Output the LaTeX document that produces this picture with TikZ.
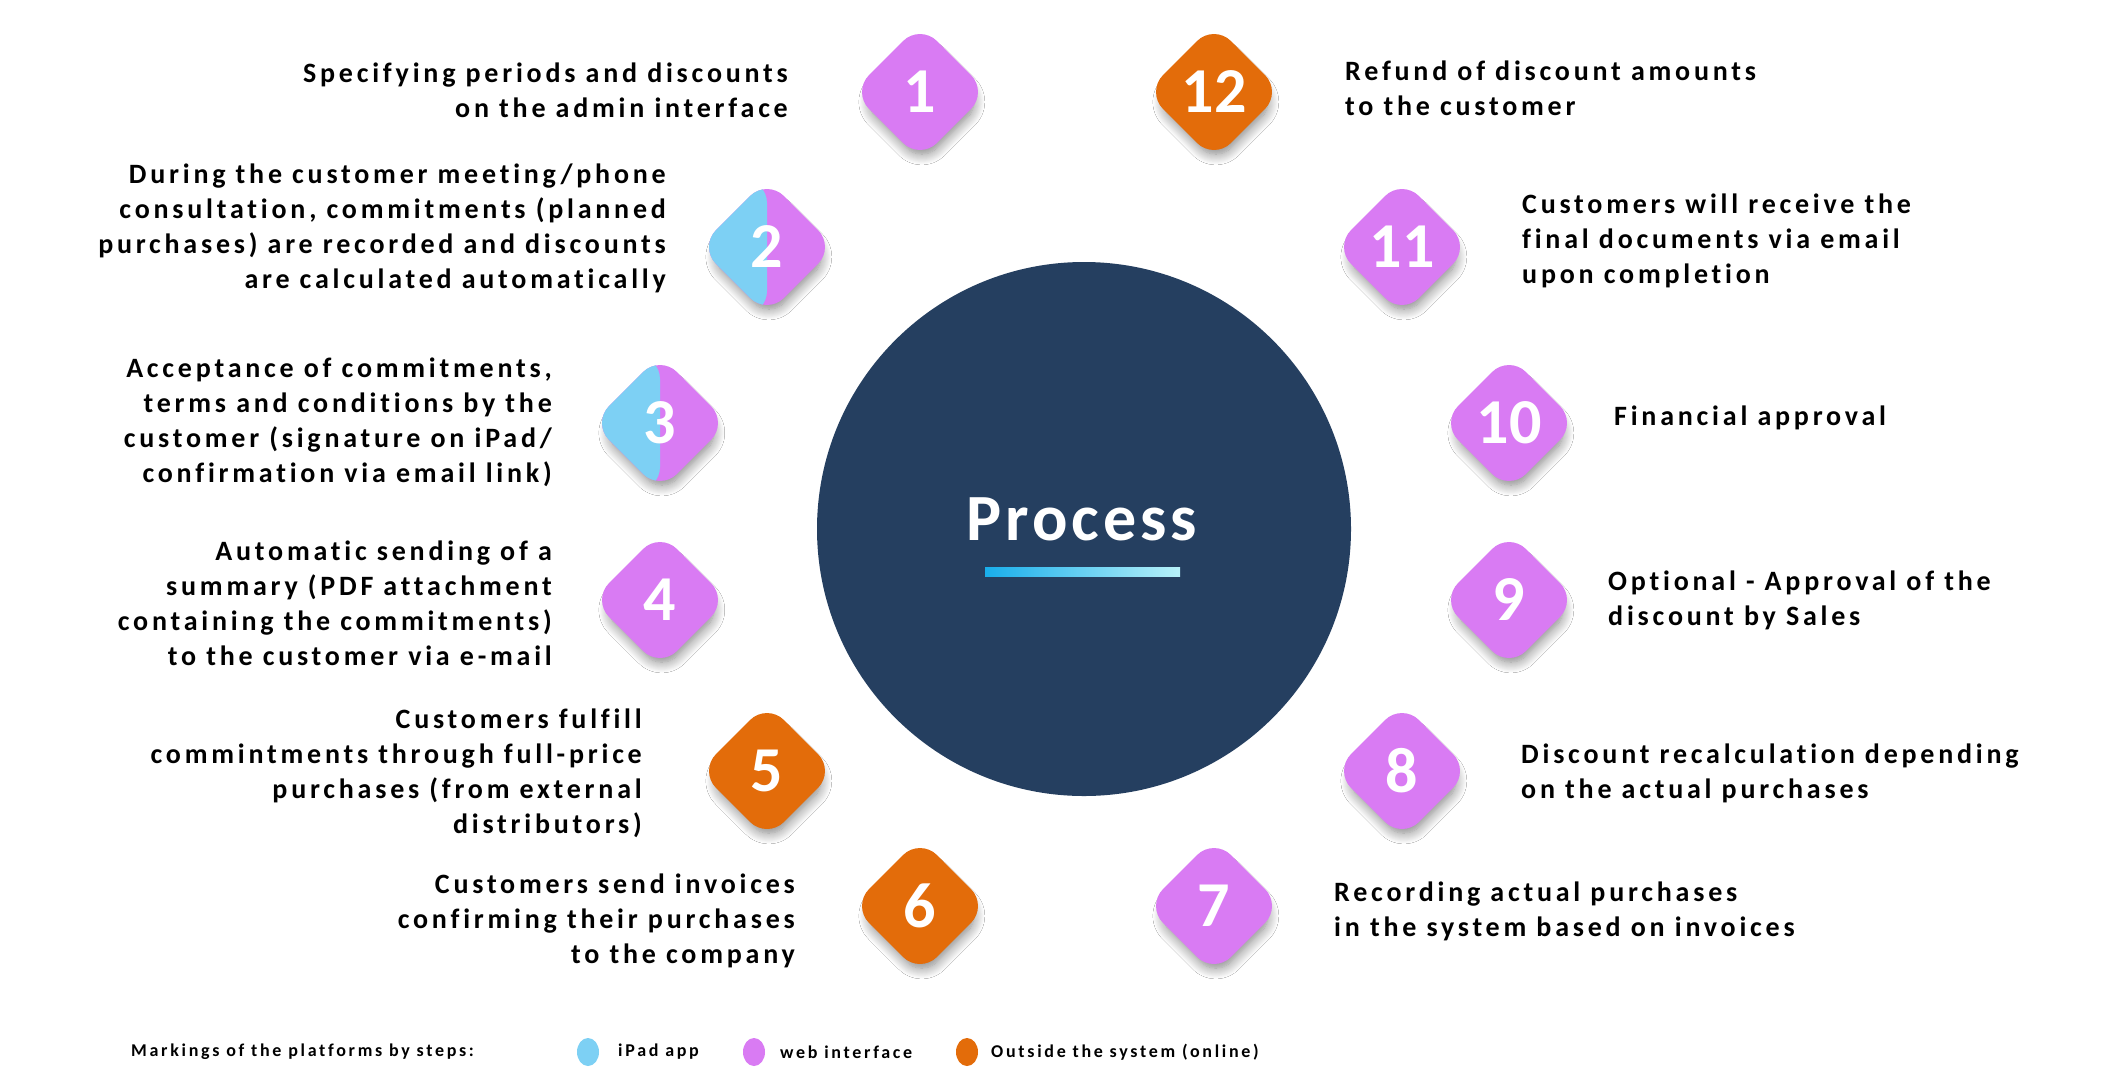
\documentclass[tikz,border=0pt]{standalone}
\usepackage{fontspec}
\setmainfont{Carlito}[LetterSpace=13.5,Ligatures=NoCommon]
\usetikzlibrary{shapes.geometric,shadows.blur}
\definecolor{cweb}{HTML}{D97BF3}
\definecolor{cipad}{HTML}{7DD0F4}
\definecolor{cout}{HTML}{E36C0A}
\definecolor{cnavy}{HTML}{253F60}
\definecolor{gradA}{HTML}{19AEEB}
\definecolor{gradB}{HTML}{B7F1F9}
\begin{document}
\begin{tikzpicture}[x=1pt,y=-1pt,
  stepnum/.style={diamond, aspect=1, minimum size=136pt, inner sep=0pt,
    rounded corners=24pt, text=white,
    font=\addfontfeatures{LetterSpace=0}\fontsize{64}{64}\selectfont\bfseries,
    blur shadow={shadow xshift=2pt, shadow yshift=-11pt, shadow blur radius=12pt, shadow scale=0.9, shadow opacity=50, shadow blur steps=12}},
  webstep/.style={stepnum, fill=cweb},
  outstep/.style={stepnum, fill=cout},
  splitstep/.style={stepnum, fill=cweb,
    path picture={\fill[cipad] (path picture bounding box.south west) rectangle (path picture bounding box.north);}},
  lbl/.style={font=\fontsize{28}{35}\selectfont\bfseries, inner sep=0pt, text=black},
  lblL/.style={lbl, align=right, anchor=east},
  lblR/.style={lbl, align=left, anchor=west},
  lgd/.style={font=\fontsize{18}{20}\selectfont\bfseries\addfontfeatures{LetterSpace=15}, inner sep=0pt, anchor=west},
  dot/.style={ellipse, minimum width=22pt, minimum height=28pt, inner sep=0pt}
]
\useasboundingbox (0,0) rectangle (2120,1080);
\fill[white] (0,0) rectangle (2120,1080);

% central circle
\node[circle, fill=cnavy, minimum size=534pt, inner sep=0pt] (c) at (1084,529) {};
\node[font=\fontsize{66}{66}\selectfont\bfseries\addfontfeatures{LetterSpace=6}, text=white, anchor=base, inner sep=0pt] (title) at (1082,540) {Process};
\shade[left color=gradA, right color=gradB] (985,567) rectangle (1180,576);

% steps
\node[webstep]   (s1)  at (920,92)   {1};
\node[splitstep] (s2)  at (767,247)  {2};
\node[splitstep] (s3)  at (660,423)  {3};
\node[webstep]   (s4)  at (660,600)  {4};
\node[outstep]   (s5)  at (767,771)  {5};
\node[outstep]   (s6)  at (920,906)  {6};
\node[webstep]   (s7)  at (1214,906) {7};
\node[webstep]   (s8)  at (1402,771) {8};
\node[webstep]   (s9)  at (1509,600) {9};
\node[webstep]   (s10) at (1509,423) {10};
\node[webstep]   (s11) at (1402,247) {11};
\node[outstep]   (s12) at (1214,92)  {12};

% labels left
\node[lblL] (t1) at (788,90) {Specifying periods and discounts\\on the admin interface};
\node[lblL] (t2) at (666,228) {During the customer meeting/phone\\consultation, commitments (planned\\purchases) are recorded and discounts\\are calculated automatically};
\node[lblL] (t3) at (552,422) {Acceptance of commitments,\\terms and conditions by the\\customer (signature on iPad/\\confirmation via email link)};
\node[lblL] (t4) at (552,603) {Automatic sending of a\\summary (PDF attachment\\containing the commitments)\\to the customer via e-mail};
\node[lblL] (t5) at (642,773) {Customers fulfill\\commintments through full-price\\purchases (from external\\distributors)};
\node[lblL] (t6) at (795,921) {Customers send invoices\\confirming their purchases\\to the company};

% labels right
\node[lblR] (t12) at (1345,88)  {Refund of discount amounts\\to the customer};
\node[lblR] (t11) at (1522,241) {Customers will receive the\\final documents via email\\upon completion};
\node[lblR] (t10) at (1614,418) {Financial approval};
\node[lblR] (t9)  at (1608,600) {Optional - Approval of the\\discount by Sales};
\node[lblR] (t8)  at (1521,773) {Discount recalculation depending\\on the actual purchases};
\node[lblR] (t7)  at (1334,911) {Recording actual purchases\\in the system based on invoices};

% legend
\node[lgd] (lg) at (131,1052) {Markings of the platforms by steps:};
\node[dot, fill=cipad] (d1) at (588,1052) {};
\node[lgd] (l1) at (618,1052) {iPad app};
\node[dot, fill=cweb] (d2) at (754,1052) {};
\node[lgd] (l2) at (780,1052) {web interface};
\node[dot, fill=cout] (d3) at (967,1052) {};
\node[lgd] (l3) at (991,1052) {Outside the system (online)};
\end{tikzpicture}
\end{document}
